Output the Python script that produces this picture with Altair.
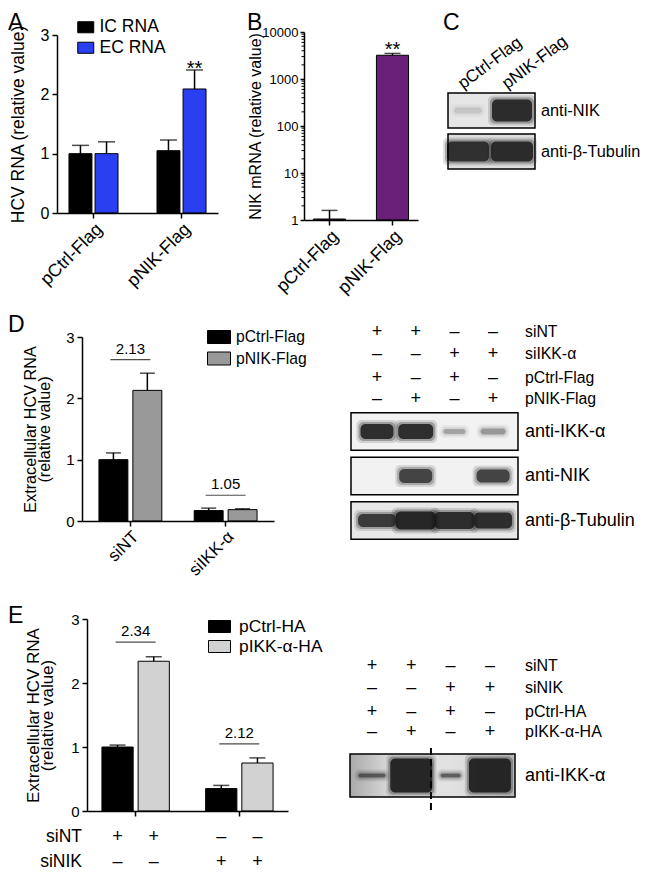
import altair as alt
import pandas as pd

# ================= DATA =================
# Panel A
A_groups = ["pCtrl-Flag", "pNIK-Flag"]
A_series = ["IC RNA", "EC RNA"]
A_ic = [1.00, 1.05]
A_ic_err = [0.14, 0.18]
A_ec = [1.00, 2.09]
A_ec_err = [0.20, 0.32]
A_sig_ic = ["", ""]
A_sig_ec = ["", "**"]

# Panel B (log scale)
B_groups = ["pCtrl-Flag", "pNIK-Flag"]
B_vals = [1.05, 3200.0]
B_err = [0.55, 300.0]
B_sig = ["", "**"]
B_ticks = [1, 10, 100, 1000, 10000]

# Panel C blot
C_lanes = ["pCtrl-Flag", "pNIK-Flag"]
C_blots = ["anti-NIK", "anti-β-Tubulin"]
C_nik = [0.12, 0.95]
C_tub = [0.92, 0.95]

# Panel D
D_groups = ["siNT", "siIKK-α"]
D_series = ["pCtrl-Flag", "pNIK-Flag"]
D_ctrl = [1.00, 0.17]
D_ctrl_err = [0.11, 0.04]
D_nik = [2.13, 0.185]
D_nik_err = [0.28, 0.015]
D_fold = ["2.13", "1.05"]
D_bracket = [2.63, 0.42]

D_sign_rows = ["siNT", "siIKK-α", "pCtrl-Flag", "pNIK-Flag"]
D_siNT = ["+", "+", "–", "–"]
D_siIKK = ["–", "–", "+", "+"]
D_pCtrl = ["+", "–", "+", "–"]
D_pNIK = ["–", "+", "–", "+"]
D_blots = ["anti-IKK-α", "anti-NIK", "anti-β-Tubulin"]
D_ikk = [0.95, 0.95, 0.30, 0.35]
D_nikb = [0.0, 0.80, 0.0, 0.80]
D_tub = [0.85, 1.0, 0.95, 0.95]

# Panel E
E_groups = ["siNT", "siNIK"]
E_series = ["pCtrl-HA", "pIKK-α-HA"]
E_ctrl = [1.00, 0.35]
E_ctrl_err = [0.03, 0.05]
E_ikk = [2.34, 0.75]
E_ikk_err = [0.07, 0.08]
E_fold = ["2.34", "2.12"]
E_bracket = [2.64, 1.05]
E_tbl_rows = ["siNT", "siNIK"]
E_tbl_siNT = ["+", "+", "–", "–"]
E_tbl_siNIK = ["–", "–", "+", "+"]

E_sign_rows = ["siNT", "siNIK", "pCtrl-HA", "pIKK-α-HA"]
E_siNT = ["+", "+", "–", "–"]
E_siNIK = ["–", "–", "+", "+"]
E_pCtrl = ["+", "–", "+", "–"]
E_pIKK = ["–", "+", "–", "+"]
E_blots = ["anti-IKK-α"]
E_ikkb = [0.6, 1.0, 0.6, 1.0]

# ================= LAYOUT / STYLE =================
W, H, M = 634, 864, 8
FONT = "Liberation Sans"


def X(v):
    return v - M


def Y(v):
    return v - M


RECT = "M-1,-{h}H1V{h}H-1Z"

LAY_A = dict(x0=57, x1=218, pi=0.443, po=0.136, opi=0.12, yb=213, yt=35)
LAY_B = dict(x0=304, x1=418, pi=0.49, po=0.15, yb=220, yt=32)
LAY_D = dict(x0=82, x1=274, pi=0.34, po=0.178, opi=0.147, yb=521, yt=337)
LAY_E = dict(x0=87, x1=288, pi=0.35, po=0.144, opi=0.137, yb=811, yt=619)

HALO = [(8, 0.15), (4, 0.30), (0, 0.85)]
AXC = dict(domainColor="black", tickColor="black", labelColor="black",
           titleColor="black", domainWidth=1.5, tickWidth=1.5, grid=False,
           labelFont=FONT, titleFont=FONT, titleFontWeight="normal", zindex=1)


def grouped(groups, series, vals, errs, colors, lay, ytitle, title_cx, leg, fs,
            sig=None, folds=None, brackets=None, xlabels=True, cap=16,
            bw=40, sig_dy=5, table=None):
    recs = []
    for si, s in enumerate(series):
        for gi, g in enumerate(groups):
            v, e = vals[si][gi], errs[si][gi]
            recs.append({"group": g, "series": s, "value": v, "top": v + e,
                         "sig": sig[si][gi] if sig else ""})
    df = pd.DataFrame(recs)
    yb, yt = Y(lay["yb"]), Y(lay["yt"])
    xs = alt.Scale(type="band", domain=groups, range=[X(lay["x0"]), X(lay["x1"])],
                   paddingInner=lay["pi"], paddingOuter=lay["po"])
    os_ = alt.Scale(type="band", domain=series, paddingInner=lay["opi"], paddingOuter=0)
    ys = alt.Scale(domain=[0, 3], range=[yb, yt], nice=False)
    xax = alt.Axis(orient="bottom", offset=yb - H, title=None, labels=xlabels,
                   labelAngle=315, labelFontSize=fs["xlab"], labelPadding=2,
                   tickSize=5, **AXC)
    yax = alt.Axis(orient="left", offset=-X(lay["x0"]), values=[0, 1, 2, 3],
                   title=ytitle, titleX=title_cx - lay["x0"],
                   titleY=(yb + yt) / 2, titleAngle=270, titleAlign="center",
                   titleBaseline="middle", titleLineHeight=fs["lh"],
                   titleFontSize=fs["title"], labelFontSize=fs["tick"], tickSize=5,
                   labelPadding=3, **AXC)
    legend = alt.Legend(orient="none", legendX=X(leg["x"]), legendY=Y(leg["y"]),
                        title=None, labelFontSize=fs["leg"], labelFont=FONT,
                        symbolType=RECT.format(h=leg["h"]),
                        symbolSize=leg["size"], symbolStrokeColor="black",
                        symbolStrokeWidth=1, rowPadding=leg["rp"],
                        labelOffset=leg["lo"], symbolOpacity=1)
    xo = alt.XOffset("series:N", scale=os_, sort=series)
    xn = alt.X("group:N", scale=xs, sort=groups, axis=None)
    base = alt.Chart(df)
    bars = base.mark_bar(stroke="black", strokeWidth=1).encode(
        x=alt.X("group:N", scale=xs, sort=groups, axis=xax),
        xOffset=xo,
        y=alt.Y("value:Q", scale=ys, axis=yax),
        y2=alt.datum(0),
        color=alt.Color("series:N", sort=series,
                        scale=alt.Scale(domain=series, range=colors),
                        legend=legend),
    )
    err = base.mark_rule(color="black", strokeWidth=1.5).encode(
        x=xn, xOffset=xo, y=alt.Y("value:Q", scale=ys, axis=None),
        y2=alt.Y2("top:Q"))
    caps = base.mark_tick(color="black", thickness=1.5, size=cap).encode(
        x=xn, xOffset=xo, y=alt.Y("top:Q", scale=ys, axis=None))
    out = [bars, err, caps]
    if sig:
        out.append(base.transform_filter(alt.datum.sig != "").mark_text(
            fontSize=20, baseline="alphabetic", dy=sig_dy, color="black").encode(
            x=xn, xOffset=xo, y=alt.Y("top:Q", scale=ys, axis=None),
            text="sig:N"))
    if folds:
        fdf = pd.DataFrame({"group": groups, "level": brackets, "fold": folds})
        fb = alt.Chart(fdf)
        out.append(fb.mark_tick(color="black", thickness=1.2, size=bw).encode(
            x=xn, y=alt.Y("level:Q", scale=ys, axis=None)))
        out.append(fb.mark_text(fontSize=15, baseline="alphabetic", dy=-6,
                                color="black").encode(
            x=xn, y=alt.Y("level:Q", scale=ys, axis=None), text="fold:N"))
    if table:
        names, signs, ypx = table
        unit = (lay["yb"] - lay["yt"]) / 3
        trecs, lrecs = [], []
        for k, nm in enumerate(names):
            lvl = (lay["yb"] - ypx[k]) / unit
            lrecs.append({"name": nm, "lvl": lvl})
            for gi, g in enumerate(groups):
                for si, s in enumerate(series):
                    trecs.append({"group": g, "series": s, "lvl": lvl,
                                  "sign": signs[k][gi * len(series) + si]})
        out.append(alt.Chart(pd.DataFrame(trecs)).mark_text(
            fontSize=18, baseline="middle", color="black").encode(
            x=xn, xOffset=xo, y=alt.Y("lvl:Q", scale=ys, axis=None),
            text="sign:N"))
        out.append(alt.Chart(pd.DataFrame(lrecs)).mark_text(
            fontSize=17.5, baseline="middle", align="right", color="black").encode(
            x=alt.value(X(82)), y=alt.Y("lvl:Q", scale=ys, axis=None),
            text="name:N"))
    return out


def blot(n, lx1, ldx, ry0, rdy, fl, fr, fhh, names, intens, widths, heights,
         fills, sign_names=None, sign_vals=None, sign_ys=None, label_x=525,
         lane_labels=None, lane_label_y=None, dashed=None, blot_fs=17.5,
         sign_fs=15.5):
    def ux(p):
        return 1 + (p - lx1) / ldx

    def uy(p):
        return (p - ry0) / rdy

    xs = alt.Scale(domain=[1, 2], range=[X(lx1), X(lx1 + ldx)], nice=False, zero=False)
    ys = alt.Scale(domain=[0, 1], range=[Y(ry0), Y(ry0 + rdy)], nice=False, zero=False)
    ex = lambda f: alt.X(f, scale=xs, axis=None)
    ey = lambda f: alt.Y(f, scale=ys, axis=None)
    parts = []
    h = fhh / rdy
    for r, nm in enumerate(names):
        fdf = pd.DataFrame({"x": [ux(fl)], "x2": [ux(fr)], "y": [r - h], "y2": [r + h]})
        parts.append(alt.Chart(fdf).mark_rect(fill=fills[r], strokeWidth=0).encode(
            x=ex("x:Q"), x2="x2:Q", y=ey("y:Q"), y2="y2:Q"))
    recs = []
    for r in range(len(names)):
        for i in range(n):
            iv = intens[r][i]
            if iv <= 0:
                continue
            for extra, a in HALO:
                w = (widths[r][i] + extra) / 2 / ldx
                hh = (heights[r][i] + extra) / 2 / rdy
                recs.append({"x": 1 + i - w, "x2": 1 + i + w,
                             "y": max(r - hh, r - h), "y2": min(r + hh, r + h),
                             "op": min(1.0, iv * a)})
    parts.append(alt.Chart(pd.DataFrame(recs)).mark_rect(
        color="#141414", cornerRadius=5).encode(
        x=ex("x:Q"), x2="x2:Q", y=ey("y:Q"), y2="y2:Q",
        opacity=alt.Opacity("op:Q", scale=None)))
    odf = pd.DataFrame({"x": [ux(fl)] * len(names), "x2": [ux(fr)] * len(names),
                        "y": [r - h for r in range(len(names))],
                        "y2": [r + h for r in range(len(names))]})
    parts.append(alt.Chart(odf).mark_rect(fillOpacity=0, stroke="black",
                                          strokeWidth=1.5).encode(
        x=ex("x:Q"), x2="x2:Q", y=ey("y:Q"), y2="y2:Q"))
    ldf = pd.DataFrame({"name": names, "x": [ux(label_x)] * len(names),
                        "y": list(range(len(names)))})
    parts.append(alt.Chart(ldf).mark_text(fontSize=blot_fs, align="left",
                                          baseline="middle", color="black").encode(
        x=ex("x:Q"), y=ey("y:Q"), text="name:N"))
    if sign_names:
        srecs, snames = [], []
        for k, nm in enumerate(sign_names):
            snames.append({"name": nm, "x": ux(label_x), "y": uy(sign_ys[k])})
            for i in range(n):
                srecs.append({"x": 1 + i, "y": uy(sign_ys[k]), "s": sign_vals[k][i]})
        parts.append(alt.Chart(pd.DataFrame(srecs)).mark_text(
            fontSize=18, baseline="middle", color="black").encode(
            x=ex("x:Q"), y=ey("y:Q"), text="s:N"))
        parts.append(alt.Chart(pd.DataFrame(snames)).mark_text(
            fontSize=sign_fs, align="left", baseline="middle", color="black").encode(
            x=ex("x:Q"), y=ey("y:Q"), text="name:N"))
    if lane_labels:
        lldf = pd.DataFrame({"name": lane_labels, "x": [1 + i for i in range(n)],
                             "y": [uy(lane_label_y)] * n})
        parts.append(alt.Chart(lldf).mark_text(
            fontSize=17, align="left", baseline="alphabetic", angle=323, dx=-6,
            color="black").encode(x=ex("x:Q"), y=ey("y:Q"), text="name:N"))
    if dashed:
        ddf = pd.DataFrame({"x": [dashed[0]], "y": [uy(dashed[1])], "y2": [uy(dashed[2])]})
        parts.append(alt.Chart(ddf).mark_rule(color="black", strokeWidth=2,
                                              strokeDash=[7, 4]).encode(
            x=ex("x:Q"), y=ey("y:Q"), y2="y2:Q"))
    return parts


def panel_b():
    df = pd.DataFrame({"group": B_groups, "value": B_vals,
                       "top": [v + e for v, e in zip(B_vals, B_err)], "sig": B_sig})
    lay = LAY_B
    yb, yt = Y(lay["yb"]), Y(lay["yt"])
    xs = alt.Scale(type="band", domain=B_groups, range=[X(lay["x0"]), X(lay["x1"])],
                   paddingInner=lay["pi"], paddingOuter=lay["po"])
    ys = alt.Scale(type="log", domain=[1, 10000], range=[yb, yt], nice=False)
    xax = alt.Axis(orient="bottom", offset=yb - H, title=None, labelAngle=315,
                   labelFontSize=18, labelPadding=2, tickSize=5, **AXC)
    yax = alt.Axis(orient="left", offset=-X(lay["x0"]), values=B_ticks, format="d",
                   title="NIK mRNA (relative value)", titleX=255 - lay["x0"],
                   titleY=(yb + yt) / 2, titleAngle=270, titleAlign="center",
                   titleBaseline="middle", titleFontSize=16, labelFontSize=13,
                   tickSize=4, labelPadding=2, **AXC)
    xn = alt.X("group:N", scale=xs, sort=B_groups, axis=None)
    base = alt.Chart(df)
    bars = base.mark_bar(color="#6a1f78", stroke="black", strokeWidth=1).encode(
        x=alt.X("group:N", scale=xs, sort=B_groups, axis=xax),
        y=alt.Y("value:Q", scale=ys, axis=yax), y2=alt.datum(1))
    err = base.mark_rule(color="black", strokeWidth=1.5).encode(
        x=xn, y=alt.Y("value:Q", scale=ys, axis=None), y2=alt.Y2("top:Q"))
    caps = base.mark_tick(color="black", thickness=1.5, size=16).encode(
        x=xn, y=alt.Y("top:Q", scale=ys, axis=None))
    sig = base.transform_filter(alt.datum.sig != "").mark_text(
        fontSize=20, baseline="alphabetic", dy=3, color="black").encode(
        x=xn, y=alt.Y("top:Q", scale=ys, axis=None), text="sig:N")
    minors = [m * 10 ** k for k in range(4) for m in range(2, 10)]
    mdf = pd.DataFrame({"v": minors})
    minor = alt.Chart(mdf).mark_rule(color="black", strokeWidth=1).encode(
        x=alt.value(X(lay["x0"]) - 2.5), x2=alt.value(X(lay["x0"])),
        y=alt.Y("v:Q", scale=ys, axis=None))
    return [bars, err, caps, sig, minor]


def letter(t, x, y):
    return alt.Chart(pd.DataFrame({"t": [t]})).mark_text(
        fontSize=23, align="left", baseline="alphabetic", color="black").encode(
        x=alt.value(max(X(x), 0)), y=alt.value(Y(y)), text="t:N")


layers = []

layers += grouped(
    A_groups, A_series, [A_ic, A_ec], [A_ic_err, A_ec_err],
    ["#000000", "#2b3ff2"], LAY_A, "HCV RNA (relative value)", 18,
    dict(x=77, y=18.5, h=0.69, size=256, rp=1.5, lo=5),
    dict(xlab=18, title=17.5, tick=16, leg=17.5, lh=14),
    sig=[A_sig_ic, A_sig_ec], cap=17, sig_dy=5)

layers += panel_b()

layers += blot(
    2, 468, 44, 110.5, 41, 448, 535, 17.5, C_blots, [C_nik, C_tub],
    [[28, 40], [42, 42]], [[6, 22], [20, 20]], ["#e6e6e6", "#dedede"],
    label_x=541, lane_labels=C_lanes, lane_label_y=86, blot_fs=16.3)

layers += grouped(
    D_groups, D_series, [D_ctrl, D_nik], [D_ctrl_err, D_nik_err],
    ["#000000", "#999999"], LAY_D, ["Extracellular HCV RNA", "(relative value)"],
    30, dict(x=207, y=325, h=0.565, size=529, rp=0.5, lo=5),
    dict(xlab=17, title=16.2, tick=15, leg=15.7, lh=14),
    folds=D_fold, brackets=D_bracket, cap=15, bw=40)

layers += blot(
    4, 377, 38.7, 431.5, 44.5, 351, 518, 18.75, D_blots, [D_ikk, D_nikb, D_tub],
    [[33, 35, 22, 25], [0, 33, 0, 33], [38, 40, 40, 38]],
    [[15, 15, 5, 6], [0, 14, 0, 13], [13, 18, 17, 16]],
    ["#f2f2f2", "#f2f2f2", "#e8e8e8"],
    sign_names=D_sign_rows, sign_vals=[D_siNT, D_siIKK, D_pCtrl, D_pNIK],
    sign_ys=[332, 354, 378, 399], label_x=525, blot_fs=18, sign_fs=15.8)

layers += grouped(
    E_groups, E_series, [E_ctrl, E_ikk], [E_ctrl_err, E_ikk_err],
    ["#000000", "#d2d2d2"], LAY_E, ["Extracellular HCV RNA", "(relative value)"],
    33, dict(x=208, y=615, h=0.545, size=484, rp=-3, lo=8),
    dict(xlab=17, title=17, tick=15, leg=17.4, lh=14.5),
    folds=E_fold, brackets=E_bracket, cap=16, bw=40, xlabels=False,
    table=(E_tbl_rows, [E_tbl_siNT, E_tbl_siNIK], [837, 862]))

E_grad = alt.LinearGradient(
    gradient="linear", x1=0, x2=1, y1=0, y2=0,
    stops=[alt.GradientStop(color="#a9a9a9", offset=0),
           alt.GradientStop(color="#dcdcdc", offset=0.25),
           alt.GradientStop(color="#e2e2e2", offset=0.6),
           alt.GradientStop(color="#d0d0d0", offset=1)])

layers += blot(
    4, 372, 39.3, 775.5, 44.5, 350, 515, 21.5, E_blots, [E_ikkb],
    [[27, 42, 20, 42]], [[4, 34, 4, 34]], [E_grad],
    sign_names=E_sign_rows, sign_vals=[E_siNT, E_siNIK, E_pCtrl, E_pIKK],
    sign_ys=[666, 688, 712, 732], label_x=525, dashed=(2.5, 748, 812),
    blot_fs=18, sign_fs=16)

layers += [letter("A", 3, 29.5), letter("B", 247, 29.5), letter("C", 443, 29.5),
           letter("D", 1, 332), letter("E", 3, 623)]

chart = alt.layer(*layers).properties(
    width=W, height=H, padding=0,
    autosize=alt.AutoSizeParams(type="none"), background="white",
).resolve_scale(
    x="independent", y="independent", xOffset="independent", color="independent"
).resolve_axis(
    x="independent", y="independent"
).resolve_legend(
    color="independent"
).configure_view(stroke=None).configure_axis(
    grid=False, labelFont=FONT, titleFont=FONT,
).configure_legend(
    padding=0, labelFont=FONT, labelColor="black",
).configure_text(font=FONT)

chart.save("out.html", embed_options={"renderer": "svg", "actions": False})
